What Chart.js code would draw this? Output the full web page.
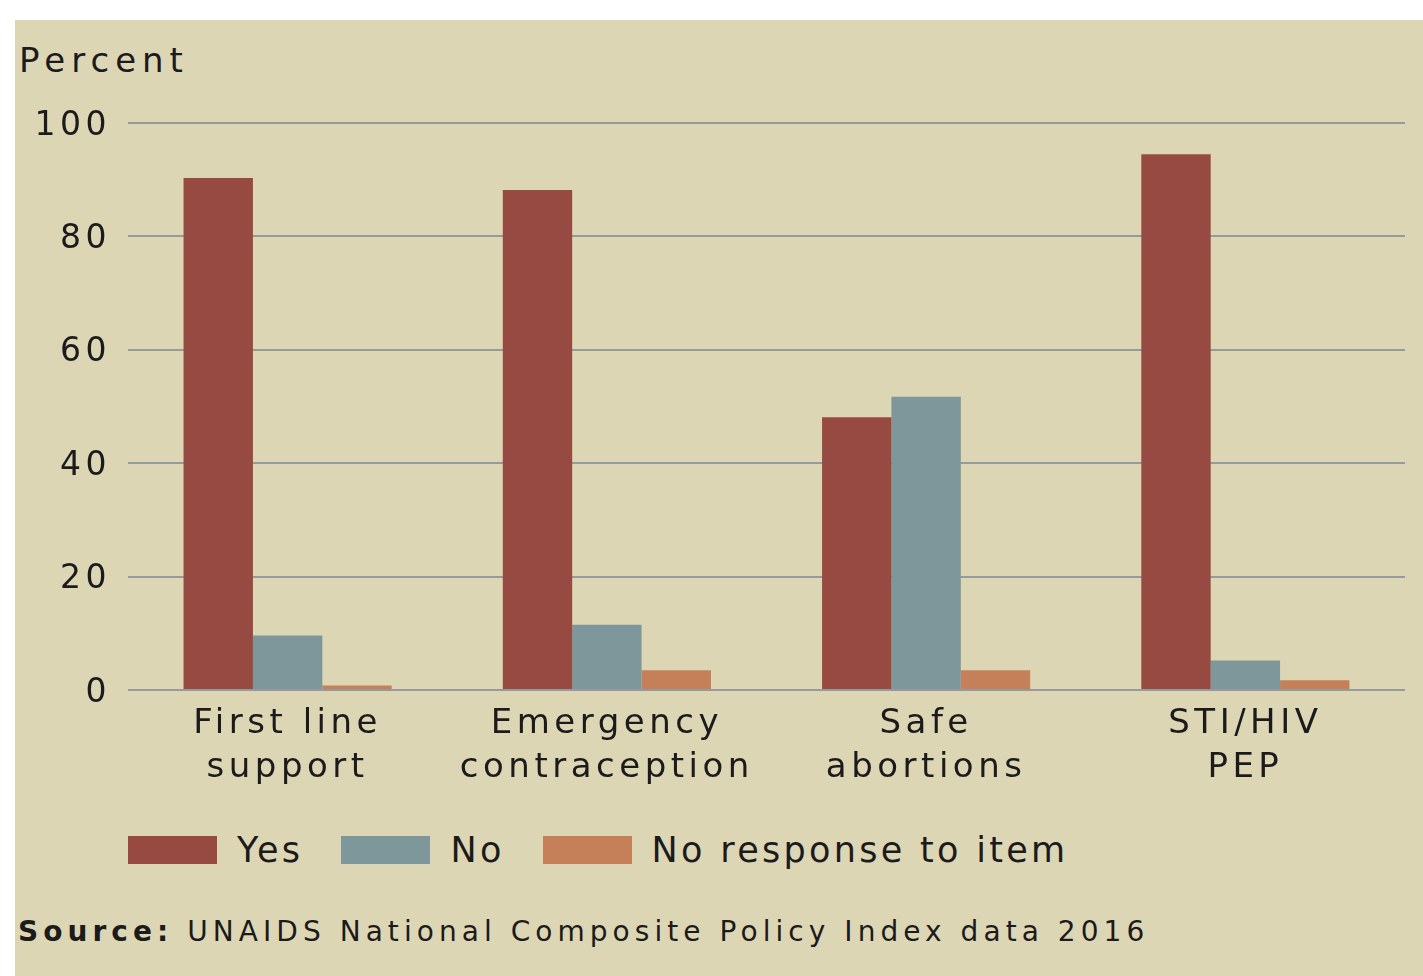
<!DOCTYPE html>
<html>
<head>
<meta charset="utf-8">
<script src="https://cdn.jsdelivr.net/npm/chart.js@4.4.1/dist/chart.umd.min.js"></script>
<style>
  html, body { margin: 0; padding: 0; background: #ffffff; }
  body { width: 1423px; height: 976px; position: relative; overflow: hidden; font-family: "DejaVu Sans", sans-serif; color: #1b1b1b; }
  #panel { position: absolute; left: 15px; top: 20px; right: 0; bottom: 0; background: #ddd6b5; }
  #ytitle { position: absolute; left: 19px; top: 43px; font-size: 34px; line-height: 1; letter-spacing: 6px; }
  #chartBox { position: absolute; left: 15px; top: 20px; width: 1408px; height: 790px; }
  #legend { position: absolute; left: 128px; top: 836px; display: flex; align-items: center; }
  .item { display: flex; align-items: center; margin-right: 38px; }
  .swatch { width: 89px; height: 28px; margin-right: 20px; }
  .label { font-size: 35px; line-height: 28px; letter-spacing: 3.3px; }
  #source { position: absolute; left: 18px; top: 918px; font-size: 28px; line-height: 1; letter-spacing: 5.05px; white-space: nowrap; }
</style>
</head>
<body>
<div id="panel"></div>
<div id="ytitle">Percent</div>
<div id="chartBox"><canvas id="chart" width="1408" height="790"></canvas></div>
<div id="legend"></div>
<div id="source"><b>Source:</b> UNAIDS National Composite Policy Index data 2016</div>
<script>
const categories = [['First line', 'support'], ['Emergency', 'contraception'], ['Safe', 'abortions'], ['STI/HIV', 'PEP']];
const yesValues = [90.3, 88.2, 48.1, 94.5];
const noValues = [9.6, 11.5, 51.7, 5.2];
const noResponseValues = [0.8, 3.5, 3.5, 1.7];
const yTicks = [0, 20, 40, 60, 80, 100];

const seriesNames = ['Yes', 'No', 'No response to item'];
const seriesColors = ['#974a42', '#7e979a', '#c5805a'];

// canvas text gets the same wide tracking as the page text
const spacing = {
  id: 'spacing',
  beforeUpdate(chart) { chart.ctx.letterSpacing = '4.5px'; },
  beforeDraw(chart) { chart.ctx.letterSpacing = '4.5px'; }
};

const chart = new Chart(document.getElementById('chart'), {
  type: 'bar',
  data: {
    labels: categories,
    datasets: [yesValues, noValues, noResponseValues].map((values, i) => ({
      label: seriesNames[i],
      data: values,
      backgroundColor: seriesColors[i],
      borderWidth: 0,
      categoryPercentage: 0.652,
      barPercentage: 1
    }))
  },
  options: {
    responsive: false,
    animation: false,
    layout: { padding: { top: 103, right: 18, left: 0, bottom: 10 } },
    plugins: {
      legend: { display: false },
      tooltip: { enabled: false }
    },
    scales: {
      x: {
        grid: { display: false },
        border: { display: false },
        ticks: {
          color: '#1b1b1b',
          padding: 5,
          maxRotation: 0,
          autoSkip: false,
          font: { family: 'DejaVu Sans', size: 34, lineHeight: 1.27 }
        },
        afterFit(scale) { scale.height = 110; }
      },
      y: {
        min: 0,
        max: 100,
        afterBuildTicks(scale) { scale.ticks = yTicks.map(v => ({ value: v })); },
        grid: { color: '#979a9c', lineWidth: 2, drawTicks: false },
        border: { display: false },
        ticks: {
          color: '#1b1b1b',
          padding: 17,
          labelOffset: 3,
          font: { family: 'DejaVu Sans', size: 33 }
        },
        afterFit(scale) { scale.width = 113; }
      }
    }
  },
  plugins: [spacing]
});

// legend built from the chart's datasets
const legend = document.getElementById('legend');
chart.data.datasets.forEach(ds => {
  const item = document.createElement('div');
  item.className = 'item';
  const sw = document.createElement('div');
  sw.className = 'swatch';
  sw.style.background = ds.backgroundColor;
  const lb = document.createElement('div');
  lb.className = 'label';
  lb.textContent = ds.label;
  item.appendChild(sw);
  item.appendChild(lb);
  legend.appendChild(item);
});
</script>
</body>
</html>
